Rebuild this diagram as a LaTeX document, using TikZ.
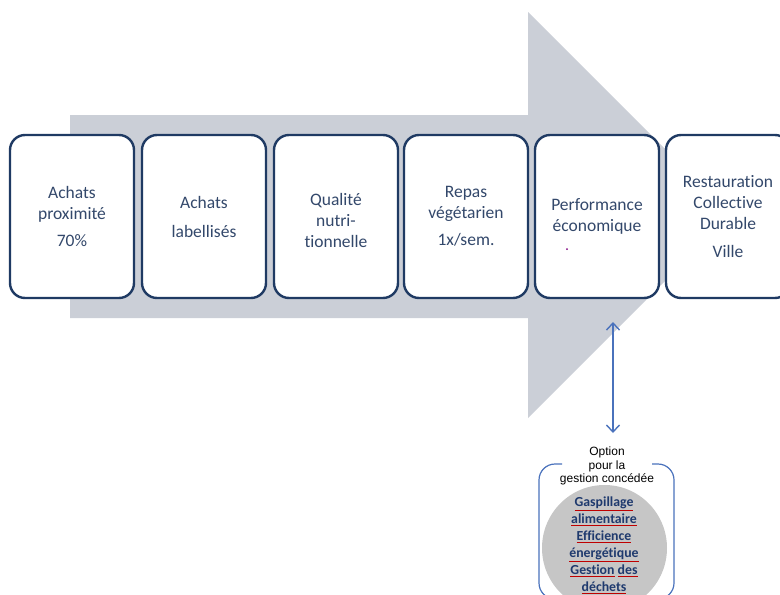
\documentclass[tikz,border=0pt]{standalone}
\usepackage{fontspec}
\setmainfont{Carlito}[Ligatures=NoCommon]
\newfontfamily\arialfont{Liberation Sans}
\usetikzlibrary{arrows.meta}

\newcommand{\squig}[1]{\textcolor{red!75!black}{\underline{\textcolor{optblue}{#1}}}}

\begin{document}
\begin{tikzpicture}[x=1pt, y=-1pt,
    etape/.style={draw=boxline, line width=2.4pt, fill=white, rounded corners=15pt,
        minimum width=124pt, minimum height=163pt, text=boxtext, align=center,
        font=\fontsize{17.5}{21}\selectfont},
    lien/.style={draw=linkblue, line width=1.4pt, {Straight Barb[length=7pt,width=13pt]}-{Straight Barb[length=7pt,width=13pt]}}]
        \definecolor{boxline}{HTML}{1F3A63}
        \definecolor{boxtext}{HTML}{33486B}
        \definecolor{arrowgrey}{HTML}{CBCFD7}
        \definecolor{linkblue}{HTML}{4A72BC}
        \definecolor{optblue}{HTML}{1F3A6E}

        \useasboundingbox (0,0) rectangle (780,595);
        \clip (0,0) rectangle (780,595);

        % big grey arrow behind the steps
        \fill[arrowgrey] (70,115) -- (528,115) -- (528,12) -- (731,215) -- (528,418) -- (528,318) -- (70,318) -- cycle;

        \node[etape] (achats) at (72,216.5) {Achats\\proximité\\[6pt]70\%};
        \node[etape] (label) at (204,216.5) {Achats\\[8pt]labellisés};
        \node[etape] (qualite) at (336,216.5) {\\[-1pt]Qualité\\nutri-\\tionnelle};
        \node[etape] (repas) at (466,216.5) {Repas\\végétarien\\[6pt]1x/sem.};
        \node[etape] (perf) at (597,216.5) {Performance\\économique};
        \node[etape] (rcd) at (728,216.5) {Restauration\\Collective\\Durable\\[7pt]Ville};
        \fill[violet] (567,249) circle (1pt);

        % option for the concession
        \node[font=\arialfont\fontsize{12}{13.5}\selectfont, align=center] (option) at (607,466) {Option\\pour la\\gestion concédée};
        \draw[linkblue, line width=1.2pt, rounded corners=16pt] (562,464) -| (539,599) -| (674,464) -- (652,464);
        \fill[gray!45] (604.5,548) ellipse (62.5 and 63);
        \node[font=\bfseries\fontsize{13.8}{17}\selectfont, text=optblue, align=center] (dechets) at (604,545)
            {\squig{Gaspillage}\\\squig{alimentaire}\\\squig{Efficience}\\\squig{énergétique}\\\squig{Gestion}~\squig{des}\\\squig{déchets}};

        \coordinate (haut) at (613,322);
        \coordinate (bas) at (613,433);
        \draw[lien] (haut) -- (bas);
\end{tikzpicture}
\end{document}
